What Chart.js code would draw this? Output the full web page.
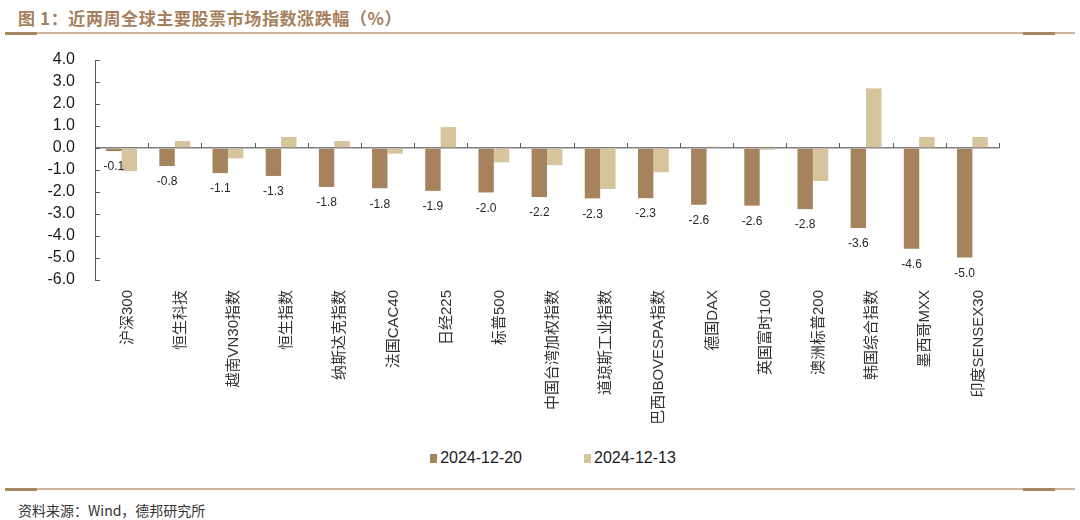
<!DOCTYPE html>
<html>
<head>
<meta charset="utf-8">
<script src="https://cdn.jsdelivr.net/npm/chart.js@4.4.1/dist/chart.umd.min.js"></script>
<style>
  body { margin: 0; background: #fff; }
  #wrap { position: relative; width: 1080px; height: 520px; overflow: hidden; }
  #title { position: absolute; left: 18px; top: 5px; font: bold 17px "Noto Sans CJK SC", sans-serif; color: #a67f5c; letter-spacing: 0.6px; white-space: nowrap; }
  .rule { position: absolute; left: 5px; width: 1070px; height: 2px; background: #cfb39c; }
  .rule .l, .rule .r { position: absolute; top: 0; height: 3px; width: 32px; background: #a88664; }
  .rule .l { left: 0; }
  .rule .r { left: 1018px; }
  #box { position: absolute; left: 0; top: 0; width: 1080px; height: 440px; }
  #legend { position: absolute; top: 449px; left: 0; width: 1080px; box-sizing: border-box; padding-left: 26px; display: flex; justify-content: center; font: 16px "Liberation Sans", Arial, sans-serif; color: #1a1a1a; }
  #legend span.item { display: flex; align-items: center; margin: 0 31px; }
  #legend i { display: inline-block; width: 7px; height: 9px; margin-right: 3px; }
  #source { position: absolute; left: 18px; top: 500px; font: 14px "Noto Sans CJK SC", sans-serif; color: #333; }
</style>
</head>
<body>
<div id="wrap">
  <div id="title">图 1：近两周全球主要股票市场指数涨跌幅（%）</div>
  <div class="rule" style="top:32px"><span class="l"></span><span class="r"></span></div>
  <div id="box"><canvas id="myChart"></canvas></div>
  <div id="legend"></div>
  <div class="rule" style="top:488px"><span class="l"></span><span class="r"></span></div>
  <div id="source">资料来源：Wind，德邦研究所</div>
</div>
<script>
const categories = ['沪深300', '恒生科技', '越南VN30指数', '恒生指数', '纳斯达克指数', '法国CAC40', '日经225', '标普500',
  '中国台湾加权指数', '道琼斯工业指数', '巴西IBOVESPA指数', '德国DAX', '英国富时100', '澳洲标普200', '韩国综合指数', '墨西哥MXX', '印度SENSEX30'];
const seriesNames = ['2024-12-20', '2024-12-13'];
const week1220 = [-0.14, -0.82, -1.14, -1.27, -1.77, -1.83, -1.95, -2.02, -2.23, -2.29, -2.28, -2.58, -2.62, -2.78, -3.64, -4.58, -4.98];
const week1213 = [-1.05, 0.32, -0.47, 0.5, 0.32, -0.26, 0.95, -0.65, -0.78, -1.86, -1.1, 0.06, -0.08, -1.5, 2.71, 0.5, 0.5];
const yTicks = [4, 3, 2, 1, 0, -1, -2, -3, -4, -5, -6];
const barColors = ['#a6835c', '#d5c49c'];

// legend in html
const legendDiv = document.getElementById('legend');
seriesNames.forEach((name, i) => {
  legendDiv.innerHTML += `<span class="item"><i style="background:${barColors[i]}"></i>${name}</span>`;
});

// small inward ticks on the axes, and value labels under the dark bars
const axisMarks = {
  id: 'axisMarks',
  afterDatasetsDraw(chart) {
    const ctx = chart.ctx;
    const x = chart.scales.x, y = chart.scales.y;
    const left = chart.chartArea.left;
    const y0 = y.getPixelForValue(0);
    ctx.save();
    ctx.strokeStyle = '#595959';
    ctx.lineWidth = 1;
    ctx.beginPath();
    yTicks.forEach(v => {
      const py = Math.round(y.getPixelForValue(v)) + 0.5;
      ctx.moveTo(left, py);
      ctx.lineTo(left + 5, py);
    });
    for (let i = 0; i <= categories.length; i++) {
      let px;
      if (i === 0) px = left;
      else if (i === categories.length) px = chart.chartArea.right;
      else px = (x.getPixelForValue(i - 1) + x.getPixelForValue(i)) / 2;
      px = Math.round(px) + 0.5;
      ctx.moveTo(px, y0);
      ctx.lineTo(px, y0 - 5);
    }
    ctx.stroke();

    ctx.fillStyle = '#262626';
    ctx.font = '12px "Liberation Sans", Arial, sans-serif';
    ctx.textAlign = 'center';
    ctx.textBaseline = 'middle';
    chart.getDatasetMeta(0).data.forEach((bar, i) => {
      ctx.fillText(week1220[i].toFixed(1), bar.x, bar.y + 16);
    });
    ctx.restore();
  }
};

new Chart(document.getElementById('myChart'), {
  type: 'bar',
  data: {
    labels: categories,
    datasets: [
      { label: seriesNames[0], data: week1220, backgroundColor: barColors[0], borderWidth: 0 },
      { label: seriesNames[1], data: week1213, backgroundColor: barColors[1], borderWidth: 0 }
    ]
  },
  options: {
    responsive: true,
    maintainAspectRatio: false,
    animation: false,
    layout: { padding: { top: 60, left: 0, right: 81, bottom: 0 } },
    datasets: { bar: { categoryPercentage: 0.58, barPercentage: 1 } },
    plugins: {
      legend: { display: false },
      tooltip: { enabled: false }
    },
    scales: {
      x: {
        grid: { display: false, drawTicks: false },
        border: { display: false },
        ticks: {
          autoSkip: false,
          minRotation: 90,
          maxRotation: 90,
          padding: 10,
          labelOffset: 6,
          color: '#333',
          font: { family: '"Liberation Sans", "Noto Sans CJK SC", sans-serif', size: 15 }
        },
        afterFit(scale) { scale.height = 160; }
      },
      y: {
        min: -6,
        max: 4,
        afterBuildTicks(scale) { scale.ticks = yTicks.map(v => ({ value: v })); },
        grid: {
          drawTicks: false,
          color: c => (c.tick && c.tick.value === 0) ? '#808080' : 'rgba(0,0,0,0)',
          lineWidth: c => (c.tick && c.tick.value === 0) ? 1.5 : 0
        },
        border: { display: true, color: '#595959', width: 1 },
        ticks: {
          autoSkip: false,
          padding: 20,
          color: '#1a1a1a',
          font: { family: '"Liberation Sans", Arial, sans-serif', size: 16 },
          callback: v => v.toFixed(1)
        },
        afterFit(scale) { scale.width = 95; }
      }
    }
  },
  plugins: [axisMarks]
});
</script>
</body>
</html>
